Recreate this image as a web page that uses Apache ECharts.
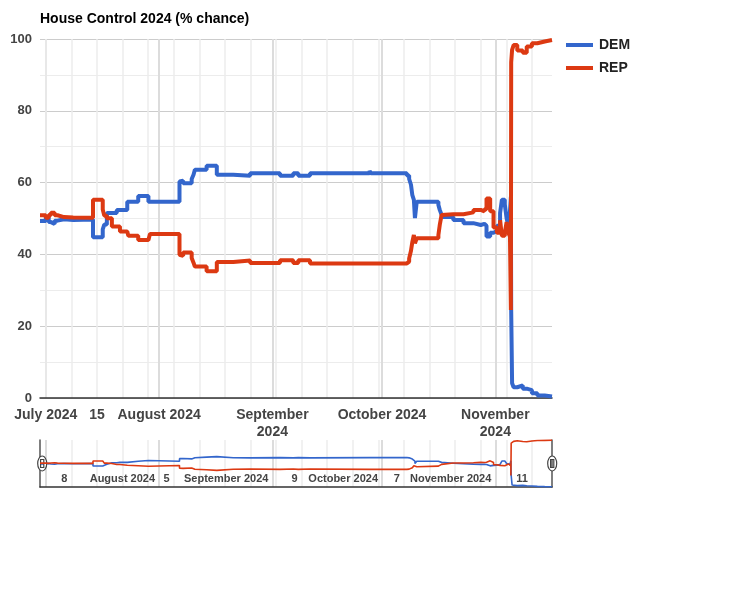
<!DOCTYPE html>
<html>
<head>
<meta charset="utf-8">
<script src="https://cdn.jsdelivr.net/npm/echarts@6/dist/echarts.min.js"></script>
<style>
html,body{margin:0;padding:0;background:#fff}
#c{width:738px;height:600px}
</style>
</head>
<body>
<div id="c"></div>
<script>
// ---- data (change points; each value holds until the next point) ----
const dates = [
  '2024-06-29 10:00','2024-07-01 00:00','2024-07-01 19:00','2024-07-02 10:00','2024-07-03 10:00',
  '2024-07-04 05:00','2024-07-06 00:00','2024-07-08 12:00','2024-07-13 22:00','2024-07-16 14:00',
  '2024-07-17 00:00','2024-07-17 17:00','2024-07-19 02:00','2024-07-20 10:00','2024-07-21 07:00',
  '2024-07-23 07:00','2024-07-23 14:00','2024-07-26 07:00','2024-07-29 02:00','2024-07-29 12:00',
  '2024-08-06 14:00','2024-08-06 22:00','2024-08-07 14:00','2024-08-09 22:00','2024-08-10 10:00',
  '2024-08-10 19:00','2024-08-14 00:00','2024-08-16 19:00','2024-08-21 07:00','2024-08-25 22:00',
  '2024-09-03 02:00','2024-09-06 17:00','2024-09-08 02:00','2024-09-11 07:00','2024-09-27 14:00',
  '2024-09-27 22:00','2024-10-07 19:00','2024-10-08 10:00','2024-10-08 22:00','2024-10-09 07:00',
  '2024-10-09 17:00','2024-10-10 00:00','2024-10-10 12:00','2024-10-16 10:00','2024-10-16 19:00',
  '2024-10-17 07:00','2024-10-17 19:00','2024-10-20 12:00','2024-10-23 07:00','2024-10-26 00:00',
  '2024-10-28 00:00','2024-10-29 00:00','2024-10-29 14:00','2024-10-30 14:00','2024-10-31 12:00',
  '2024-11-01 10:00','2024-11-02 07:00','2024-11-02 19:00','2024-11-03 14:00','2024-11-04 02:00',
  '2024-11-04 14:00','2024-11-05 00:00','2024-11-05 06:00','2024-11-05 08:00','2024-11-05 14:00',
  '2024-11-06 00:00','2024-11-07 00:00','2024-11-08 12:00','2024-11-09 14:00','2024-11-11 00:00',
  '2024-11-12 12:00','2024-11-14 12:00','2024-11-16 12:00'
];
const dem = [
  49.3,50.3,49.0,48.5,49.4,
  49.8,49.6,49.7,44.8,47.0,
  48.3,51.5,51.5,52.4,52.4,
  54.7,54.7,56.3,54.7,54.7,
  60.3,60.5,59.8,61.0,62.2,
  63.6,64.7,62.2,61.9,62.6,
  61.9,62.6,61.9,62.6,63.3,
  62.6,62.0,61.0,59.4,56.5,
  55.2,50.1,54.7,53.8,52.4,
  51.0,50.4,49.6,48.7,48.2,
  48.5,48.0,45.0,46.0,46.5,
  48.0,51.5,55.2,54.0,50.0,
  48.0,52.0,56.0,24.5,4.1,
  3.0,3.5,2.6,2.2,1.3,
  0.7,0.4,0.4
];
const rep = [
  50.9,50.2,51.0,51.6,50.9,
  50.4,50.3,50.2,55.2,52.5,
  50.8,50.1,47.8,47.8,46.4,
  46.4,45.2,44.0,44.0,45.7,
  39.9,39.6,40.5,39.0,37.7,
  36.6,35.3,37.9,38.3,37.6,
  38.4,37.6,38.4,37.5,37.0,
  37.5,38.0,38.9,41.0,43.5,
  45.4,43.1,44.5,45.4,48.2,
  51.0,51.2,51.2,51.7,52.4,
  52.0,52.6,55.6,52.0,47.5,
  46.0,49.5,45.2,46.0,49.0,
  46.0,45.0,24.5,93.5,97.0,
  98.3,96.8,96.2,97.9,98.8,
  99.3,99.7,99.7
];
const axisStart = '2024-06-29 10:00';
const axisEnd = '2024-11-16 12:00';

// main chart tick labels
const mainLabelDates = ['2024-07-01','2024-07-15','2024-08-01','2024-09-01','2024-10-01','2024-11-01'];
const mainLabelTexts = ['July 2024','15','August 2024','September\n2024','October 2024','November\n2024'];
const monthLineDates = ['2024-07-01','2024-08-01','2024-09-01','2024-10-01','2024-11-01'];
// navigator tick labels
const navLabelDates = ['2024-07-08','2024-08-01','2024-08-05','2024-09-01','2024-09-09','2024-10-01','2024-10-07','2024-11-01','2024-11-11'];
const navLabelTexts = ['8','August 2024','5','September 2024','9','October 2024','7','November 2024','11'];

// ---- helpers ----
function ts(s) {
  const parts = s.split(' ');
  const d = parts[0].split('-').map(Number);
  const t = (parts[1] || '00:00').split(':').map(Number);
  return Date.UTC(d[0], d[1] - 1, d[2], t[0], t[1]);
}
const weekLines = [];
for (let t = ts('2024-07-01'); t <= ts(axisEnd); t += 7 * 86400000) {
  weekLines.push(t);
}
function makeFormatter(dList, tList) {
  const m = {};
  dList.forEach((d, i) => { m[ts(d)] = tList[i]; });
  return v => (m[v] !== undefined ? m[v] : '');
}
const FONT = '"Liberation Sans", Arial, sans-serif';
const BLUE = '#3366cc';
const RED = '#dc3912';
const minT = ts(axisStart), maxT = ts(axisEnd);

const demData = dates.map((d, i) => [ts(d), dem[i]]);
const repData = dates.map((d, i) => [ts(d), rep[i]]);

const chart = echarts.init(document.getElementById('c'), null, {renderer: 'canvas'});

const hidden = {show: false};
const option = {
  animation: false,
  backgroundColor: '#fff',
  textStyle: {fontFamily: FONT},
  title: {
    text: 'House Control 2024 (% chance)',
    left: 40, top: 12, padding: 0,
    textStyle: {fontFamily: FONT, fontSize: 14, fontWeight: 'bold', color: '#000'}
  },
  legend: {
    data: ['DEM', 'REP'],
    orient: 'vertical',
    left: 566, top: 38, padding: 0,
    icon: 'rect', itemWidth: 27, itemHeight: 4, itemGap: 9,
    selectedMode: false,
    textStyle: {fontFamily: FONT, fontSize: 14, fontWeight: 'bold', color: '#222', padding: [0, 0, 0, 1]}
  },
  grid: [
    {left: 40, right: 186, top: 39, bottom: 202, containLabel: false, outerBoundsMode: 'none'},
    {left: 40, right: 186, top: 440, bottom: 113, containLabel: false, outerBoundsMode: 'none'}
  ],
  xAxis: [
    { // main: labels, month lines, baseline
      type: 'value', gridIndex: 0, min: minT, max: maxT, position: 'bottom', scale: true,
      axisLine: {show: true, onZero: false, lineStyle: {color: '#333', width: 1.5}},
      axisTick: {show: false, customValues: monthLineDates.map(ts)},
      splitLine: {show: true, lineStyle: {color: '#dcdcdc', width: 2}},
      axisLabel: {
        show: true, customValues: mainLabelDates.map(ts),
        formatter: makeFormatter(mainLabelDates, mainLabelTexts),
        fontFamily: FONT, fontSize: 14, fontWeight: 'bold', color: '#444',
        margin: 8, lineHeight: 17.5, align: 'center', hideOverlap: false
      }
    },
    { // main: weekly lines
      type: 'value', gridIndex: 0, min: minT, max: maxT, position: 'bottom', scale: true,
      axisLine: hidden,
      axisTick: {show: false, customValues: weekLines},
      splitLine: {show: true, lineStyle: {color: '#ececec', width: 1.5}},
      axisLabel: {show: false, customValues: weekLines}
    },
    { // navigator: weekly lines + baseline
      type: 'value', gridIndex: 1, min: minT, max: maxT, position: 'bottom', scale: true,
      axisLine: {show: true, onZero: false, lineStyle: {color: '#333', width: 1.5}},
      axisTick: {show: false, customValues: weekLines},
      splitLine: {show: true, lineStyle: {color: '#ececec', width: 1.5}},
      axisLabel: {show: false, customValues: weekLines}
    },
    { // navigator: month lines + labels
      type: 'value', gridIndex: 1, min: minT, max: maxT, position: 'bottom', scale: true,
      axisLine: hidden,
      axisTick: {show: false, customValues: monthLineDates.map(ts)},
      splitLine: {show: true, lineStyle: {color: '#dcdcdc', width: 2}},
      axisLabel: {
        show: true, inside: true, customValues: navLabelDates.map(ts),
        formatter: makeFormatter(navLabelDates, navLabelTexts),
        fontFamily: FONT, fontSize: 11, fontWeight: 'bold', color: '#444',
        align: 'right', padding: [0, 4, 0, 0], margin: 3, hideOverlap: false
      }
    }
  ],
  yAxis: [
    {
      type: 'value', gridIndex: 0, min: 0, max: 100, interval: 20,
      axisLine: hidden, axisTick: hidden,
      splitLine: {show: true, lineStyle: {color: '#cccccc', width: 1}},
      minorTick: {show: false, splitNumber: 2},
      minorSplitLine: {show: true, lineStyle: {color: '#ececec', width: 1}},
      axisLabel: {fontFamily: FONT, fontSize: 13, fontWeight: 'bold', color: '#444', margin: 8}
    },
    {
      type: 'value', gridIndex: 1, min: 0, max: 100, position: 'left',
      axisLine: {show: true, lineStyle: {color: '#555', width: 1.5}},
      axisTick: hidden, axisLabel: hidden, splitLine: hidden
    },
    {
      type: 'value', gridIndex: 1, min: 0, max: 100, position: 'right',
      axisLine: {show: true, lineStyle: {color: '#555', width: 1.5}},
      axisTick: hidden, axisLabel: hidden, splitLine: hidden
    }
  ],
  dataZoom: [{
    type: 'slider', xAxisIndex: 0, filterMode: 'none',
    left: 40, right: 186, top: 440, height: 47,
    start: 0, end: 100,
    showDataShadow: false, showDetail: false, brushSelect: false, realtime: false,
    backgroundColor: 'rgba(0,0,0,0)', borderColor: 'rgba(0,0,0,0)', fillerColor: 'rgba(0,0,0,0)',
    dataBackground: {lineStyle: {opacity: 0}, areaStyle: {opacity: 0}},
    selectedDataBackground: {lineStyle: {opacity: 0}, areaStyle: {opacity: 0}},
    handleIcon: 'path://M0,-7.5C2.485,-7.5,4.5,-4.142,4.5,0C4.5,4.142,2.485,7.5,0,7.5C-2.485,7.5,-4.5,4.142,-4.5,0C-4.5,-4.142,-2.485,-7.5,0,-7.5ZM-1.6,-4L-1.6,4L1.6,4L1.6,-4Z',
    handleSize: 15,
    handleStyle: {color: '#fff', borderColor: '#444', borderWidth: 1.2},
    moveHandleSize: 0,
    moveHandleStyle: {opacity: 0},
    emphasis: {handleStyle: {color: '#fff', borderColor: '#444', borderWidth: 1.2}, moveHandleStyle: {opacity: 0}},
    textStyle: {color: 'rgba(0,0,0,0)'}
  }],
  series: [
    {
      name: 'DEM', type: 'line', xAxisIndex: 0, yAxisIndex: 0, data: demData,
      step: 'end', showSymbol: false, symbol: 'none', silent: true,
      lineStyle: {color: BLUE, width: 4}, itemStyle: {color: BLUE}, z: 3
    },
    {
      name: 'REP', type: 'line', xAxisIndex: 0, yAxisIndex: 0, data: repData,
      step: 'end', showSymbol: false, symbol: 'none', silent: true,
      lineStyle: {color: RED, width: 4}, itemStyle: {color: RED}, z: 4
    },
    {
      name: 'DEM', type: 'line', xAxisIndex: 2, yAxisIndex: 1, data: demData,
      step: 'end', showSymbol: false, symbol: 'none', silent: true,
      lineStyle: {color: BLUE, width: 1.6}, itemStyle: {color: BLUE}, z: 3
    },
    {
      name: 'REP', type: 'line', xAxisIndex: 2, yAxisIndex: 1, data: repData,
      step: 'end', showSymbol: false, symbol: 'none', silent: true,
      lineStyle: {color: RED, width: 1.6}, itemStyle: {color: RED}, z: 4
    }
  ]
};
chart.setOption(option);
</script>
</body>
</html>
